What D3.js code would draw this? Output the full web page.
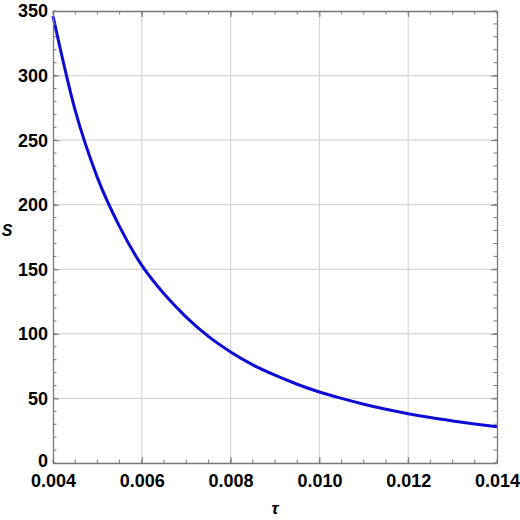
<!DOCTYPE html>
<html>
<head>
<meta charset="utf-8">
<script src="https://cdn.jsdelivr.net/npm/d3@7.9.0/dist/d3.min.js"></script>
<style>
  body { margin: 0; background: #fff; }
  svg text { font-family: "Liberation Sans", Arial, sans-serif; font-weight: bold; fill: #000; }
</style>
</head>
<body>
<svg id="chart" width="520" height="520"></svg>
<script>
// values
const tau = [0.004, 0.0045, 0.005, 0.0055, 0.006, 0.0065, 0.007, 0.0075, 0.008, 0.0085,
             0.009, 0.0095, 0.010, 0.0105, 0.011, 0.0115, 0.012, 0.0125, 0.013, 0.0135, 0.014];
const sVals = [346, 273, 221, 183, 153, 131, 113, 98, 86, 76,
               68, 61, 55, 50, 45.5, 41.6, 38.2, 35.2, 32.6, 30.2, 28.1];
const xTicks = [0.004, 0.006, 0.008, 0.010, 0.012, 0.014];
const yTicks = [0, 50, 100, 150, 200, 250, 300, 350];

const margin = { top: 11, right: 23, bottom: 57, left: 53 };
const width = 520, height = 520;
const svg = d3.select('#chart');

const x = d3.scaleLinear().domain([0.004, 0.014]).range([margin.left, width - margin.right]);
const y = d3.scaleLinear().domain([0, 350]).range([height - margin.bottom, margin.top]);

// grid
svg.append('g').selectAll('line').data(xTicks.slice(1, -1)).join('line')
  .attr('x1', d => x(d)).attr('x2', d => x(d))
  .attr('y1', y(0)).attr('y2', y(350))
  .attr('stroke', '#d6d6d6').attr('stroke-width', 1.2);
svg.append('g').selectAll('line').data(yTicks.slice(1, -1)).join('line')
  .attr('x1', x(0.004)).attr('x2', x(0.014))
  .attr('y1', d => y(d)).attr('y2', d => y(d))
  .attr('stroke', '#d6d6d6').attr('stroke-width', 1.2);

// curve
svg.append('path')
  .datum(tau.map((t, i) => [t, sVals[i]]))
  .attr('fill', 'none')
  .attr('stroke', '#0c0cd4')
  .attr('stroke-width', 3)
  .attr('d', d3.line().x(d => x(d[0])).y(d => y(d[1])).curve(d3.curveMonotoneX));

// frame axes with inward ticks
const frameColor = '#777';
const xMinor = d3.range(0.004, 0.01401, 0.0005);
const yMinor = d3.range(0, 351, 10);

function styleAxis(g) {
  g.select('.domain').attr('stroke', frameColor).attr('stroke-width', 1.3);
  g.selectAll('.tick line').attr('stroke', frameColor);
}

const axBottom = svg.append('g').attr('transform', `translate(0,${y(0)})`)
  .call(d3.axisBottom(x).tickValues(xTicks).tickSizeInner(-6).tickSizeOuter(0)
    .tickFormat(d3.format('.3f')).tickPadding(11));
styleAxis(axBottom);
axBottom.selectAll('text').attr('font-size', 18);

const axLeft = svg.append('g').attr('transform', `translate(${x(0.004)},0)`)
  .call(d3.axisLeft(y).tickValues(yTicks).tickSizeInner(-6).tickSizeOuter(0).tickPadding(5));
styleAxis(axLeft);
// the "0" label sits just above the first x label
axLeft.selectAll('text').attr('font-size', 18).attr('dy', d => d === 0 ? '0.18em' : '0.33em');

const axTop = svg.append('g').attr('transform', `translate(0,${y(350)})`)
  .call(d3.axisTop(x).tickValues(xTicks).tickSizeInner(-6).tickSizeOuter(0).tickFormat(''));
styleAxis(axTop);

const axRight = svg.append('g').attr('transform', `translate(${x(0.014)},0)`)
  .call(d3.axisRight(y).tickValues(yTicks).tickSizeInner(-6).tickSizeOuter(0).tickFormat(''));
styleAxis(axRight);

// minor ticks
[[y(0), -3.5], [y(350), 3.5]].forEach(([yy, len]) => {
  svg.append('g').selectAll('line').data(xMinor).join('line')
    .attr('x1', d => x(d)).attr('x2', d => x(d))
    .attr('y1', yy).attr('y2', yy + len)
    .attr('stroke', frameColor);
});
[[x(0.004), 3.5], [x(0.014), -3.5]].forEach(([xx, len]) => {
  svg.append('g').selectAll('line').data(yMinor).join('line')
    .attr('x1', xx).attr('x2', xx + len)
    .attr('y1', d => y(d)).attr('y2', d => y(d))
    .attr('stroke', frameColor);
});

// axis labels
svg.append('text').attr('x', 7).attr('y', 236)
  .attr('text-anchor', 'middle').attr('font-size', 16).attr('font-style', 'italic').text('S');
svg.append('text').attr('x', 275).attr('y', 514)
  .attr('text-anchor', 'middle').attr('font-size', 17).attr('font-style', 'italic').text('τ');
</script>
</body>
</html>
